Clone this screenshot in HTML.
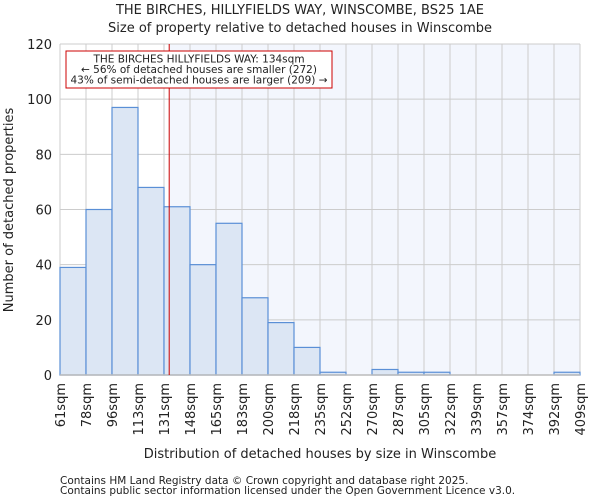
<!DOCTYPE html>
<html><head><meta charset="utf-8"><style>
body{margin:0;background:#fff;font-family:"DejaVu Sans","Liberation Sans",sans-serif;}
svg text{font-family:"DejaVu Sans","Liberation Sans",sans-serif;fill:#222;}
</style></head><body>
<svg id="chart" width="600" height="500" xmlns="http://www.w3.org/2000/svg">
<text x="300" y="14" font-size="13" text-anchor="middle">THE BIRCHES, HILLYFIELDS WAY, WINSCOMBE, BS25 1AE</text>
<text x="300" y="32" font-size="13" text-anchor="middle">Size of property relative to detached houses in Winscombe</text>
<g id="plot"></g>
<text x="320" y="458" font-size="13" text-anchor="middle">Distribution of detached houses by size in Winscombe</text>
<text transform="translate(13,210) rotate(-90)" font-size="13" text-anchor="middle">Number of detached properties</text>
<text x="60" y="484" font-size="10.5" fill="#444">Contains HM Land Registry data © Crown copyright and database right 2025.</text>
<text x="60" y="494" font-size="10.5" fill="#444">Contains public sector information licensed under the Open Government Licence v3.0.</text>
</svg>
<script>
const binLabels=["61sqm","78sqm","96sqm","113sqm","131sqm","148sqm","165sqm","183sqm","200sqm","218sqm","235sqm","252sqm","270sqm","287sqm","305sqm","322sqm","339sqm","357sqm","374sqm","392sqm","409sqm"];
const counts=[39,60,97,68,61,40,55,28,19,10,1,0,2,1,1,0,0,0,0,1];
const yTicks=[0,20,40,60,80,100,120];
const propertyBin=4.2;
const NS="http://www.w3.org/2000/svg";
const g=document.getElementById('plot');
const X0=60,X1=580,Y0=375,Y1=44,YMAX=120;
const bw=(X1-X0)/counts.length;
const xs=i=>X0+i*bw;
const ys=v=>Y0-(v/YMAX)*(Y0-Y1);
function mk(t,a){const e=document.createElementNS(NS,t);for(const k in a)e.setAttribute(k,a[k]);g.appendChild(e);return e;}
const redX=xs(propertyBin);
let e=mk('rect',{x:redX,y:Y1,width:X1-redX,height:Y0-Y1,fill:'#f3f6fd'});


yTicks.forEach(v=>{
 let l=mk('line',{x1:X0,x2:X1,y1:ys(v),y2:ys(v),stroke:'#cccccc','stroke-width':1});
 
 
 let t=mk('text',{x:X0-8,y:ys(v)+5,'font-size':13,'text-anchor':'end',fill:'#333'});t.textContent=v;
 
 
});
binLabels.forEach((s,i)=>{
 let l=mk('line',{x1:xs(i),x2:xs(i),y1:Y1,y2:Y0,stroke:'#cccccc','stroke-width':1});
 
 
 let t=mk('text',{transform:`translate(${xs(i)+5},${Y0+8}) rotate(-90)`,'font-size':13,'text-anchor':'end',fill:'#333'});t.textContent=s;
 
 
});
counts.forEach((c,i)=>{
 if(c<=0)return;
 let r=mk('rect',{x:xs(i),y:ys(c),width:bw,height:Y0-ys(c),fill:'#dce6f4',stroke:'#5a8fd6','stroke-width':1.2});
 
 
});
let ax=mk('line',{x1:X0,x2:X1,y1:Y0,y2:Y0,stroke:'#bbbbbb','stroke-width':1.5});


let rl=mk('line',{x1:redX,x2:redX,y1:Y1,y2:Y0,stroke:'#cc0000','stroke-width':1});


let box=mk('rect',{x:66,y:51,width:266,height:37,fill:'#fff',stroke:'#cc0000','stroke-width':1});


["THE BIRCHES HILLYFIELDS WAY: 134sqm","← 56% of detached houses are smaller (272)","43% of semi-detached houses are larger (209) →"].forEach((s,i)=>{
 let t=mk('text',{x:199,y:62.5+i*10.5,'font-size':10.5,'text-anchor':'middle',fill:'#111'});t.textContent=s;
 
 
});
</script>
</body></html>
